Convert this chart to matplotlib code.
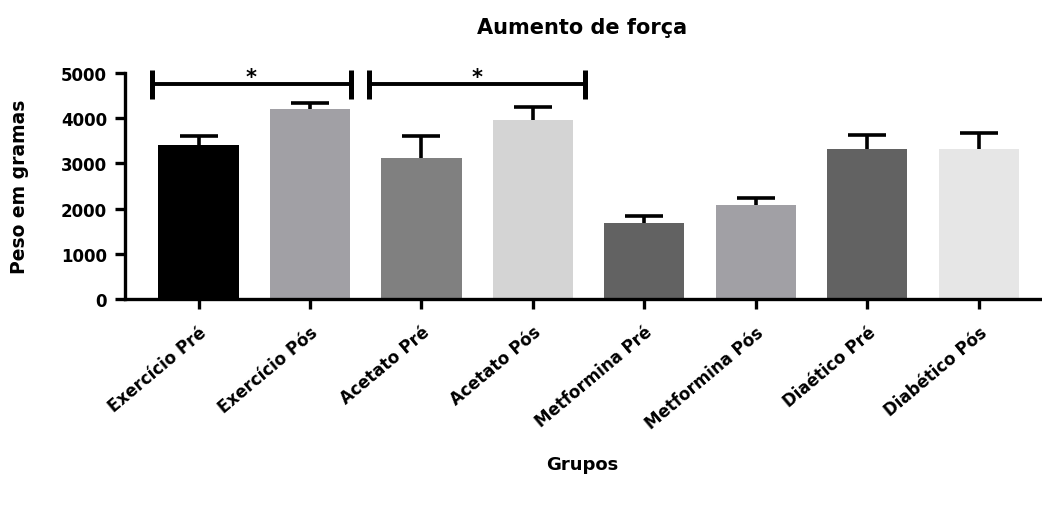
import numpy as np
import matplotlib
matplotlib.use('Agg')
import matplotlib.pyplot as plt

plt.rcParams['font.family'] = ['DejaVu Sans']
plt.rcParams['font.weight'] = 'bold'

groups = ['Exercício Pré', 'Exercício Pós', 'Acetato Pré', 'Acetato Pós',
          'Metformina Pré', 'Metformina Pós', 'Diaético Pré', 'Diabético Pós']
means = [3410, 4210, 3115, 3960, 1675, 2080, 3315, 3310]
errs = [185, 125, 500, 280, 170, 150, 320, 370]
colors = ['#000000', '#a1a0a5', '#808080', '#d4d4d4',
          '#626262', '#a1a0a5', '#626262', '#e6e6e6']
yticks = [0, 1000, 2000, 3000, 4000, 5000]

# significance brackets: (x start, x end, height)
brackets = [(-0.42, 1.37, 4760), (1.53, 3.47, 4760)]

fig = plt.figure(figsize=(10.42, 5.06), dpi=100)
ax = fig.add_axes([0.12, 0.407, 0.878, 0.447])

x = np.arange(len(groups))
# symmetric error bars drawn under the bars, so only the upper half shows
ax.errorbar(x, means, yerr=errs, fmt='none', ecolor='black',
            elinewidth=2.6, capsize=13.5, capthick=2.6, zorder=1)
ax.bar(x, means, width=0.72, color=colors, edgecolor='none', zorder=2)

for x0, x1, h in brackets:
    ax.plot([x0, x1], [h, h], color='black', lw=2.8, clip_on=False)
    for xe in (x0, x1):
        ax.plot([xe, xe], [h - 330, h + 300], color='black', lw=3.6,
                clip_on=False, solid_capstyle='butt')
    ax.text((x0 + x1) / 2, h - 80, '*', ha='center', va='bottom',
            fontsize=15, fontweight='bold', clip_on=False)

ax.set_xlim(-0.66, 7.55)
ax.set_ylim(0, 5000)
ax.set_yticks(yticks)
ax.set_yticklabels([str(v) for v in yticks], fontsize=12, fontweight='bold')
ax.set_xticks(x)
ax.set_xticklabels(groups, rotation=40, ha='right', rotation_mode='anchor',
                   fontsize=12, fontweight='bold')

for s in ['top', 'right']:
    ax.spines[s].set_visible(False)
for s in ['left', 'bottom']:
    ax.spines[s].set_linewidth(2.4)
ax.tick_params(axis='both', direction='out', length=7, width=2.4)
ax.tick_params(axis='x', pad=10)
ax.tick_params(axis='y', pad=6)

ax.set_ylabel('Peso em gramas', fontsize=13.5, fontweight='bold')
ax.yaxis.set_label_coords(-0.105, 0.5)
ax.set_xlabel('Grupos', fontsize=13, fontweight='bold')
ax.xaxis.set_label_coords(0.5, -0.69)
ax.set_title('Aumento de força', fontsize=15, fontweight='bold', pad=29)

fig.savefig('out.png', dpi=100)
